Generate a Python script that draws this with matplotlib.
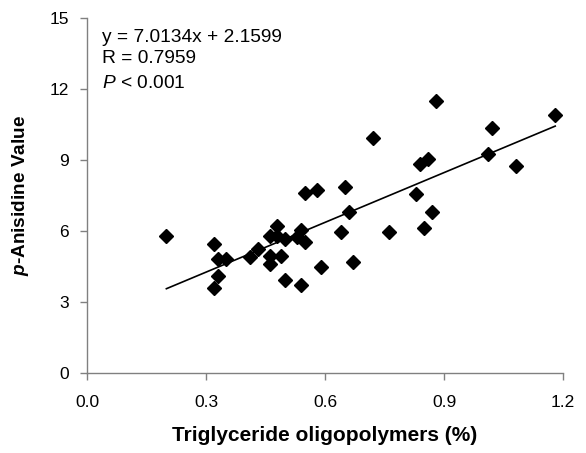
import matplotlib
matplotlib.use("Agg")
import matplotlib.pyplot as plt
import numpy as np

plt.rcParams['font.family'] = ['Liberation Sans', 'DejaVu Sans']
plt.rcParams['mathtext.fontset'] = 'custom'
plt.rcParams['mathtext.rm'] = 'Liberation Sans'
plt.rcParams['mathtext.it'] = 'Liberation Sans:italic'
plt.rcParams['mathtext.bf'] = 'Liberation Sans:bold'
plt.rcParams['mathtext.bfit'] = 'Liberation Sans:italic:bold'

# triglyceride oligopolymers (%) vs p-anisidine value
oligo = [0.20, 0.32, 0.33, 0.35, 0.33, 0.32, 0.41, 0.43, 0.46, 0.48,
         0.48, 0.46, 0.46, 0.50, 0.49, 0.50, 0.53, 0.54, 0.55, 0.54,
         0.55, 0.58, 0.59, 0.64, 0.65, 0.66, 0.67, 0.72, 0.76, 0.83,
         0.84, 0.85, 0.86, 0.87, 0.88, 1.01, 1.02, 1.08, 1.18]
anisidine = [5.80, 5.45, 4.83, 4.83, 4.08, 3.59, 4.90, 5.25, 5.80, 6.20,
             5.80, 4.94, 4.60, 5.66, 4.96, 3.94, 5.73, 6.03, 5.52, 3.73,
             7.61, 7.72, 4.48, 5.97, 7.85, 6.82, 4.68, 9.92, 5.97, 7.56,
             8.82, 6.14, 9.03, 6.82, 11.50, 9.24, 10.34, 8.75, 10.90]

slope, intercept = 7.0134, 2.1599
r_value = 0.7959
x_ticks = [0.0, 0.3, 0.6, 0.9, 1.2]
y_ticks = [0, 3, 6, 9, 12, 15]

fig = plt.figure(figsize=(5.86, 4.53), dpi=100)
ax = fig.add_axes([0.1485, 0.1766, 0.8125, 0.7834])

ax.plot(oligo, anisidine, 'D', color='black', markersize=7, zorder=3)
xl = np.array([min(oligo), max(oligo)])
ax.plot(xl, slope * xl + intercept, color='black', lw=1.2, zorder=2)

ax.set_xlim(0, 1.2)
ax.set_ylim(0, 15)
ax.set_xticks(x_ticks)
ax.set_xticklabels([f"{t:.1f}" for t in x_ticks])
ax.set_yticks(y_ticks)
ax.tick_params(direction='out', length=5, width=1, color='#808080',
               labelsize=12.5)
ax.tick_params(axis='y', pad=8)
ax.tick_params(axis='x', pad=11)
for s in ['top', 'right']:
    ax.spines[s].set_visible(False)
for s in ['left', 'bottom']:
    ax.spines[s].set_color('#808080')
    ax.spines[s].set_linewidth(1)

ax.set_xlabel('Triglyceride oligopolymers (%)', fontsize=15, fontweight='bold',
              labelpad=11)
ax.set_ylabel(r'$\mathbfit{p}$-Anisidine Value', fontsize=13.7, fontweight='bold',
              labelpad=13)

# regression text, one line at a time
ax.text(0.031, 0.933, f"y = {slope}x + {intercept}", transform=ax.transAxes,
        fontsize=13.8, va='baseline', ha='left')
ax.text(0.031, 0.874, f"R = {r_value}", transform=ax.transAxes,
        fontsize=13.8, va='baseline', ha='left')
ax.text(0.031, 0.804, r"$\mathit{P}$ < 0.001", transform=ax.transAxes,
        fontsize=13.8, va='baseline', ha='left')

fig.savefig('out.png', dpi=100)
